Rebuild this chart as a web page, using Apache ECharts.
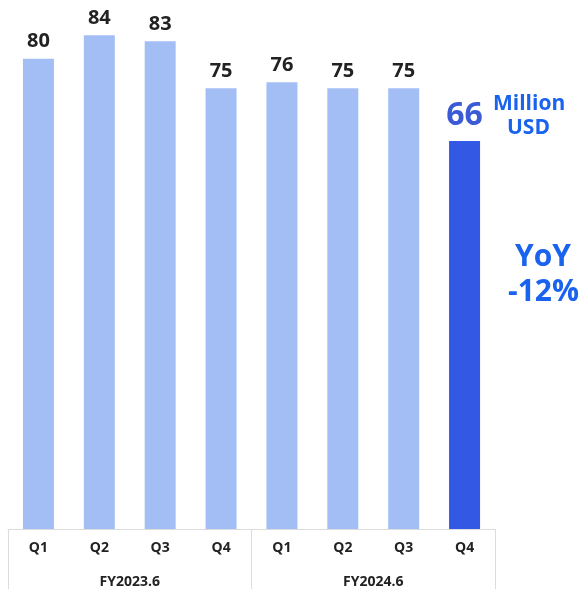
<!DOCTYPE html>
<html>
<head>
<meta charset="utf-8">
<script src="https://cdn.jsdelivr.net/npm/echarts@6/dist/echarts.min.js"></script>
<style>
  html, body { margin: 0; padding: 0; background: #fff; }
  #chart { width: 579px; height: 589px; }
</style>
</head>
<body>
<div id="chart"></div>
<script>
var quarters = ['Q1', 'Q2', 'Q3', 'Q4', 'Q1', 'Q2', 'Q3', 'Q4'];
var fiscalYears = ['FY2023.6', 'FY2024.6'];
var revenue = [80, 84, 83, 75, 76, 75, 75, 66];
var unitText = ['Million', 'USD'];
var yoyText = ['YoY', '-12%'];

var chart = echarts.init(document.getElementById('chart'));

// 最后一个季度单独高亮
var barData = revenue.map(function (v, i) {
    if (i === revenue.length - 1) {
        return {
            value: v,
            itemStyle: { color: '#3258e4' },
            label: { fontSize: 32, color: '#3a5ad6', distance: 9 }
        };
    }
    return v;
});

var option = {
    backgroundColor: '#ffffff',
    textStyle: { fontFamily: 'Open Sans' },
    grid: { left: 8, right: 84, top: 0, bottom: 57 },
    xAxis: [{
        type: 'category',
        data: quarters,
        position: 'bottom',
        axisLine: { show: true, lineStyle: { color: '#dcdcdc', width: 1 } },
        axisTick: { show: false },
        axisLabel: { margin: 12, fontSize: 14, fontWeight: 'bold', color: '#222', fontFamily: 'Open Sans' }
    }, {
        type: 'category',
        data: fiscalYears,
        position: 'bottom',
        axisLine: { show: false },
        axisTick: { show: true, length: 70, lineStyle: { color: '#dcdcdc', width: 1 } },
        axisLabel: { margin: 46, fontSize: 14, fontWeight: 'bold', color: '#222', fontFamily: 'Open Sans' }
    }],
    yAxis: {
        type: 'value',
        min: 0,
        max: 90,
        show: false
    },
    series: [{
        type: 'bar',
        xAxisIndex: 0,
        data: barData,
        barWidth: 31,
        itemStyle: { color: '#a3bef4' },
        label: {
            show: true,
            position: 'top',
            distance: 7,
            fontSize: 20,
            fontWeight: 'bold',
            color: '#222',
            fontFamily: 'Open Sans'
        }
    }],
    graphic: [{
        type: 'text',
        left: 493, top: 94,
        style: { text: unitText[0], font: 'bold 21px "Open Sans"', fill: '#1a63ee' }
    }, {
        type: 'text',
        left: 507, top: 118,
        style: { text: unitText[1], font: 'bold 21px "Open Sans"', fill: '#1a63ee' }
    }, {
        type: 'text',
        left: 515, top: 242,
        style: { text: yoyText[0], font: 'bold 30px "Open Sans"', fill: '#1a63ee' }
    }, {
        type: 'text',
        left: 508, top: 277,
        style: { text: yoyText[1], font: 'bold 30px "Open Sans"', fill: '#1a63ee' }
    }]
};

chart.setOption(option);
</script>
</body>
</html>
